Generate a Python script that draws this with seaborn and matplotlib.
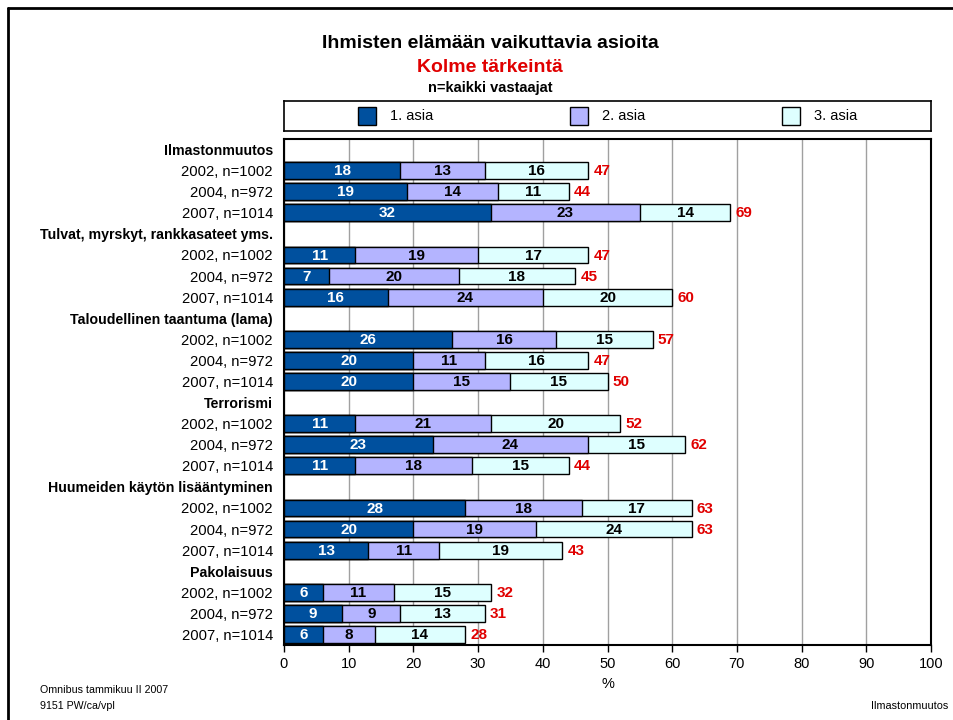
import matplotlib
matplotlib.use("Agg")
import matplotlib.pyplot as plt
import seaborn as sns
import pandas as pd
import numpy as np
from matplotlib.patches import Rectangle
from matplotlib.lines import Line2D

sns.set_theme(style="white")
plt.rcParams['font.family'] = ['Liberation Sans', 'DejaVu Sans']
plt.rcParams['text.color'] = 'black'
plt.rcParams['axes.labelcolor'] = 'black'
plt.rcParams['xtick.color'] = 'black'
plt.rcParams['ytick.color'] = 'black'

groups = ["Ilmastonmuutos", "Tulvat, myrskyt, rankkasateet yms.",
          "Taloudellinen taantuma (lama)", "Terrorismi",
          "Huumeiden käytön lisääntyminen", "Pakolaisuus"]
years = ["2002, n=1002", "2004, n=972", "2007, n=1014"]
first = [18, 19, 32, 11, 7, 16, 26, 20, 20, 11, 23, 11, 28, 20, 13, 6, 9, 6]
second = [13, 14, 23, 19, 20, 24, 16, 11, 15, 21, 24, 18, 18, 19, 11, 11, 9, 8]
third = [16, 11, 14, 17, 18, 20, 15, 16, 15, 20, 15, 15, 17, 24, 19, 15, 13, 14]
totals = [47, 44, 69, 47, 45, 60, 57, 47, 50, 52, 62, 44, 63, 63, 43, 32, 31, 28]
series_names = ["1. asia", "2. asia", "3. asia"]
colors = ["#00509E", "#B4B4FF", "#DEFFFF"]
xticks = [0, 10, 20, 30, 40, 50, 60, 70, 80, 90, 100]

# build row order (header + 3 years per group)
order, labels, is_header = [], [], []
keys = []
for gi, g in enumerate(groups):
    order.append(f"h{gi}"); labels.append(g); is_header.append(True)
    for yi, y in enumerate(years):
        k = f"r{gi}_{yi}"
        order.append(k); labels.append(y); is_header.append(False)
        keys.append(k)

df = pd.DataFrame({"row": keys, "s1": first, "s2": second, "s3": third, "total": totals})
df["c1"] = df["s1"]
df["c2"] = df["s1"] + df["s2"]
df["c3"] = df["s1"] + df["s2"] + df["s3"]

W, H = 954, 720
fig = plt.figure(figsize=(W / 100, H / 100), dpi=100)
ax = fig.add_axes([284 / W, 1 - 645 / H, (931 - 284) / W, (645 - 139) / H])

for col, c in zip(["c3", "c2", "c1"], colors[::-1]):
    sns.barplot(data=df, x=col, y="row", order=order, orient="h", color=c,
                saturation=1, width=0.8, edgecolor="black", linewidth=1.0, ax=ax,
                errorbar=None, zorder=3)

pos = {k: i for i, k in enumerate(order)}
for _, r in df.iterrows():
    yv = pos[r["row"]]
    cum = 0
    for j, (v, tc) in enumerate(zip([r.s1, r.s2, r.s3], ["white", "black", "black"])):
        ax.text(cum + v / 2, yv + 0.03, f"{int(v)}", ha="center", va="center", color=tc,
                fontsize=11, fontweight="bold", zorder=5)
        cum += v
    ax.text(r.c3 + 0.8, yv + 0.03, f"{int(r.total)}", ha="left", va="center", color="#E00000",
            fontsize=11, fontweight="bold", zorder=5)

ax.set_xlim(0, 100)
ax.set_ylim(len(order) - 0.5, -0.5)
ax.set_xticks(xticks)
ax.set_xticklabels([str(t) for t in xticks], fontsize=10.5)
ax.set_yticks(range(len(order)))
ax.set_yticklabels(labels, fontsize=10.6)
for tl, hdr in zip(ax.get_yticklabels(), is_header):
    if hdr:
        tl.set_fontweight("bold")
        tl.set_fontsize(10.2)
ax.tick_params(axis="y", length=0, pad=8)
ax.tick_params(axis="x", length=5, width=1, direction="out", pad=4, bottom=True, colors="black")
ax.set_xlabel("%", fontsize=10.5, labelpad=4)
ax.set_ylabel("")
ax.grid(axis="x", color="#A0A0A0", linewidth=1, zorder=0)
ax.set_axisbelow(True)
for s in ax.spines.values():
    s.set_visible(True)
    s.set_color("black")
    s.set_linewidth(1.5)

# legend box
lax = fig.add_axes([284 / W, 1 - 131 / H, (931 - 284) / W, 30 / H])
lax.set_xlim(284, 931)
lax.set_ylim(0, 30)
lax.set_xticks([]); lax.set_yticks([])
for s in lax.spines.values():
    s.set_color("black"); s.set_linewidth(1.2)
for px, name, c in zip([358, 570, 782], series_names, colors):
    lax.add_patch(Rectangle((px, 6), 18, 18, facecolor=c, edgecolor="black", linewidth=1))
    lax.text(px + 32, 15, name, ha="left", va="center", fontsize=10.5)

# titles
cx = 490 / W
fig.text(cx, 1 - 44 / H, "Ihmisten elämään vaikuttavia asioita", ha="center", va="center",
         fontsize=14, fontweight="bold")
fig.text(cx, 1 - 67 / H, "Kolme tärkeintä", ha="center", va="center",
         fontsize=14, fontweight="bold", color="#E00000")
fig.text(cx, 1 - 88 / H, "n=kaikki vastaajat", ha="center", va="center",
         fontsize=10.5, fontweight="bold")

# footers
fig.text(40 / W, 1 - 690 / H, "Omnibus tammikuu II 2007", ha="left", va="center", fontsize=7.7)
fig.text(40 / W, 1 - 706 / H, "9151 PW/ca/vpl", ha="left", va="center", fontsize=7.7)
fig.text(948 / W, 1 - 706 / H, "Ilmastonmuutos", ha="right", va="center", fontsize=7.8)

# figure frame (top & left visible)
fig.add_artist(Line2D([8 / W, 8 / W], [0, 1 - 8 / H], transform=fig.transFigure,
                      color="black", linewidth=2))
fig.add_artist(Line2D([8 / W, 1], [1 - 8 / H, 1 - 8 / H], transform=fig.transFigure,
                      color="black", linewidth=2))

fig.savefig("out.png", dpi=100, facecolor="white")
